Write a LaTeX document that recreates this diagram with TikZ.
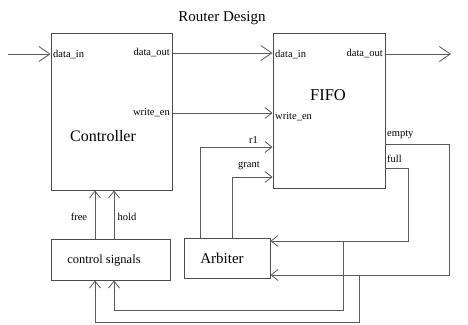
\documentclass[tikz,border=0pt]{standalone}
\usepackage{fontspec}
\setmainfont{Liberation Serif}
\usepackage{tikz}
\usetikzlibrary{positioning,arrows.meta,calc}
\definecolor{wire}{HTML}{5A5A5A}
\definecolor{frame}{HTML}{4A4A4A}
\tikzset{
  block/.style={rectangle, draw=frame, line width=0.9pt, fill=white, inner sep=0pt},
  port/.style={inner sep=1pt, font=\fontsize{10.5}{12}\selectfont},
  title/.style={inner sep=0pt, font=\fontsize{15}{18}\selectfont},
  flow/.style={-{Straight Barb[length=7pt,width=11pt]}, line width=0.8pt, draw=wire},
  bigflow/.style={-{Straight Barb[length=11pt,width=15pt]}, line width=0.8pt, draw=wire},
  wireline/.style={line width=0.8pt, draw=wire}
}

\begin{document}
\begin{tikzpicture}[x=1pt, y=-1pt]
\useasboundingbox[fill=white] (0,0) rectangle (468,324);
\node[title] (heading) at (222,18) {Router Design};
% blocks
\node[block, minimum width=121pt, minimum height=157pt] (ctrl) at (111.5,111.5) {};
\node[block, minimum width=112pt, minimum height=155pt] (fifo) at (329,110.5) {};
\node[block, minimum width=86pt, minimum height=40pt] (arb) at (227,258) {};
\node[block, minimum width=119pt, minimum height=41pt] (sig) at (110.5,259.5) {};
\node[title, font=\fontsize{16}{18}\selectfont] (ctrltext) at (103,136) {Controller};
\node[title, font=\fontsize{16.5}{18}\selectfont] (fifotext) at (328,95) {FIFO};
\node[title] (arbtext) at (222,258) {Arbiter};
\node[title, font=\fontsize{12.5}{14}\selectfont] (sigtext) at (104,261) {control signals};
% port labels
\node[port, anchor=west] (cdin) at (52,55) {data\_in};
\node[port, anchor=east] (cdout) at (171,53) {data\_out};
\node[port, anchor=east] (cwe) at (171,113) {write\_en};
\node[port, anchor=west] (fdin) at (274,55) {data\_in};
\node[port, anchor=east] (fdout) at (384,54) {data\_out};
\node[port, anchor=west] (fwe) at (274,117) {write\_en};
\node[port, anchor=east] (r1lab) at (259,140) {r1};
\node[port, anchor=east] (grantlab) at (261,166) {grant};
\node[port, anchor=west] (emptylab) at (386,135) {empty};
\node[port, anchor=west] (fulllab) at (386,159) {full};
\node[port] (freelab) at (79,217) {free};
\node[port] (holdlab) at (127,217) {hold};
% free ends and branch points
\coordinate (inp) at (8,54);
\coordinate (outp) at (451,54);
\coordinate (fullbr) at (343,241);
\coordinate (emptybr) at (359,275);
% connectors
\draw[bigflow] (inp) -- (inp -| ctrl.west);
\draw[bigflow] (cdout -| ctrl.east) -- (cdout -| fifo.west);
\draw[bigflow] (fdout -| fifo.east) -- (outp);
\draw[flow] (cwe -| ctrl.east) -- (cwe -| fifo.west);
\draw[flow] ([xshift=-27pt]arb.north) |- ([yshift=-36.5pt]fifo.west);
\draw[flow] ([xshift=5pt]arb.north) |- ([yshift=-66.5pt]fifo.west);
\draw[flow] ([yshift=-33.5pt]fifo.east) -- ++(64,0) |- ([yshift=-17pt]arb.east);
\draw[flow] ([yshift=-57.5pt]fifo.east) -- ++(23,0) |- ([yshift=17pt]arb.east);
\draw[flow] (fullbr) -- ++(0,69) -| ([xshift=3.5pt]sig.south);
\draw[flow] (emptybr) -- ++(0,47) -| ([xshift=-15.5pt]sig.south);
\draw[flow] ([xshift=-15.5pt]sig.north) -- ([xshift=-15.5pt]sig.north |- ctrl.south);
\draw[flow] ([xshift=3.5pt]sig.north) -- ([xshift=3.5pt]sig.north |- ctrl.south);
\end{tikzpicture}
\end{document}
